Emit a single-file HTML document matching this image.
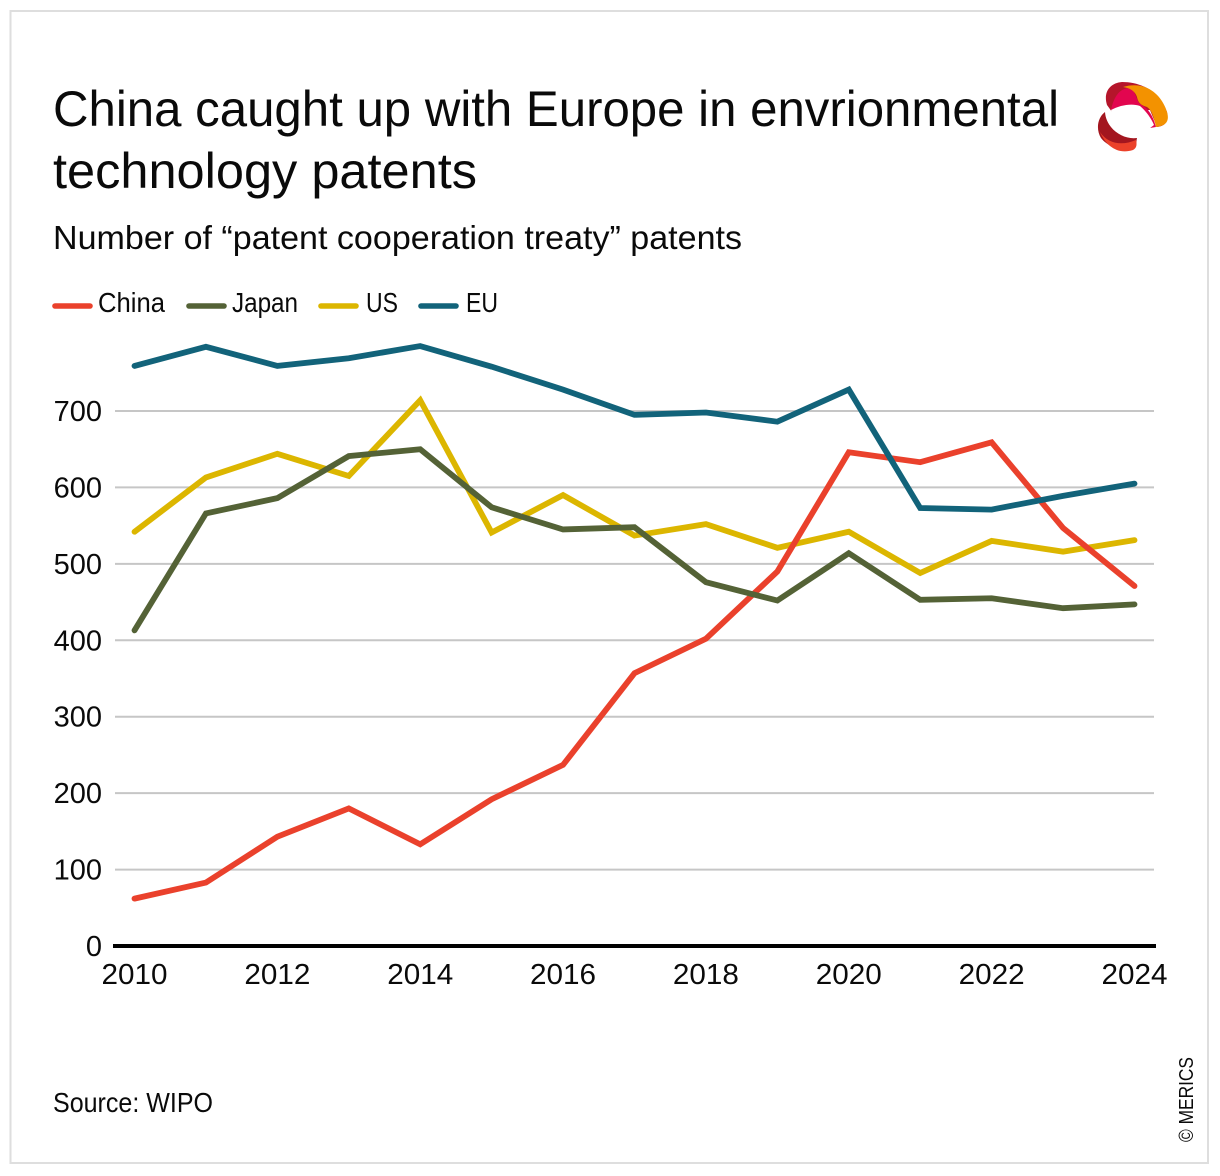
<!DOCTYPE html>
<html lang="en">
<head>
<meta charset="utf-8">
<title>China caught up with Europe in envrionmental technology patents</title>
<style>
html,body{margin:0;padding:0;background:#fff;}
svg{display:block;}
text{font-family:"Liberation Sans",sans-serif;fill:#0a0a0a;}
</style>
</head>
<body>
<svg id="chart" xmlns="http://www.w3.org/2000/svg" width="1220" height="1176" viewBox="0 0 1220 1176">
  <rect x="10.5" y="11" width="1197.5" height="1152" fill="#fff" stroke="#dedede" stroke-width="2"/>
  <text x="53" y="126" font-size="50" textLength="1006" lengthAdjust="spacingAndGlyphs">China caught up with Europe in envrionmental</text>
  <text x="53" y="188" font-size="50" textLength="424" lengthAdjust="spacingAndGlyphs">technology patents</text>
  <text x="53" y="249" font-size="33" textLength="689" lengthAdjust="spacingAndGlyphs">Number of “patent cooperation treaty” patents</text>

  <g>
    <path d="M1107 105C1103 92 1110 83 1122 82C1142 82 1160 92 1167 112C1169 122 1165 126 1157 127L1150 110L1112 112Z" fill="#b5152b"/>
    <path d="M1111 110C1114 96 1120 88 1130 88C1136 91 1136 100 1140 104C1146 107 1152 112 1156 127L1150 128L1140 108Z" fill="#e2064f"/>
    <path d="M1123 87C1146 80 1162 95 1167 112C1170 122 1165 126 1156 127C1154 118 1152 110 1147 107C1140 105 1138 102 1137 97C1135 91 1130 88 1123 87Z" fill="#f39200"/>
    <path d="M1105 112C1097 118 1096 130 1101 138C1108 147 1122 152 1134 148C1137 146 1136 142 1137 138C1122 140 1106 128 1105 112Z" fill="#a3161f"/>
    <path d="M1100 132C1108 144 1122 146 1136 140C1137 144 1137 148 1133 150C1118 155 1106 146 1100 132Z" fill="#eb412a"/>
    <path d="M1111 110C1120 105 1132 103 1140 106C1147 112 1152 120 1154 125C1148 130 1142 133 1137 137C1125 135 1115 125 1111 110Z" fill="#fff"/>
  </g>

  <g>
    <g>
      <line x1="55" y1="306" x2="90" y2="306" stroke="#ea412c" stroke-width="5.6" stroke-linecap="round"/>
      <text x="98" y="312" font-size="28" textLength="67" lengthAdjust="spacingAndGlyphs">China</text>
    </g>
    <g>
      <line x1="189" y1="306" x2="224" y2="306" stroke="#546236" stroke-width="5.6" stroke-linecap="round"/>
      <text x="232" y="312" font-size="28" textLength="66" lengthAdjust="spacingAndGlyphs">Japan</text>
    </g>
    <g>
      <line x1="321" y1="306" x2="356" y2="306" stroke="#dcb600" stroke-width="5.6" stroke-linecap="round"/>
      <text x="366" y="312" font-size="28" textLength="32" lengthAdjust="spacingAndGlyphs">US</text>
    </g>
    <g>
      <line x1="421" y1="306" x2="456" y2="306" stroke="#12637a" stroke-width="5.6" stroke-linecap="round"/>
      <text x="466" y="312" font-size="28" textLength="32" lengthAdjust="spacingAndGlyphs">EU</text>
    </g>
  </g>

  <g id="grid"></g>
  <g id="yticks"></g>
  <g id="xticks"></g>
  <g id="series"></g>
  <line x1="113" y1="946" x2="1156" y2="946" stroke="#000" stroke-width="4"/>

  <text x="53" y="1112" font-size="28" textLength="160" lengthAdjust="spacingAndGlyphs">Source: WIPO</text>
  <text transform="translate(1193 1142) rotate(-90)" font-size="20" textLength="85" lengthAdjust="spacingAndGlyphs">© MERICS</text>
</svg>
<script>
const years = [2010,2011,2012,2013,2014,2015,2016,2017,2018,2019,2020,2021,2022,2023,2024];
const xTickLabels = [2010,2012,2014,2016,2018,2020,2022,2024];
const yTickLabels = [0,100,200,300,400,500,600,700];
const usValues = [542,613,644,615,714,541,590,537,552,521,542,488,530,516,531];
const chinaValues = [62,83,143,180,133,192,237,357,402,490,646,633,659,547,471];
const japanValues = [413,566,586,641,650,574,545,548,476,452,514,453,455,442,447];
const euValues = [759,784,759,769,785,758,728,695,698,686,728,573,571,589,605];

const svgNS = 'http://www.w3.org/2000/svg';
function xScale(year){ return 134.5 + (year - 2010) * (1000 / 14); }
function yScale(value){ return 946 - value * (535 / 700); }

const gridGroup = document.getElementById('grid');
const yTickGroup = document.getElementById('yticks');
const xTickGroup = document.getElementById('xticks');
const seriesGroup = document.getElementById('series');

yTickLabels.forEach(function(tick){
  if (tick > 0) {
    const gridLine = document.createElementNS(svgNS, 'line');
    
    
    gridLine.setAttribute('x1', 115);
    gridLine.setAttribute('x2', 1154);
    gridLine.setAttribute('y1', yScale(tick));
    gridLine.setAttribute('y2', yScale(tick));
    gridLine.setAttribute('stroke', '#c6c6c6');
    gridLine.setAttribute('stroke-width', 2);
    gridGroup.appendChild(gridLine);
  }
  const yLabel = document.createElementNS(svgNS, 'text');
  
  
  yLabel.setAttribute('x', 102);
  yLabel.setAttribute('y', yScale(tick) + 10);
  yLabel.setAttribute('text-anchor', 'end');
  yLabel.setAttribute('font-size', 29);
  yLabel.textContent = String(tick);
  yTickGroup.appendChild(yLabel);
});

xTickLabels.forEach(function(tick){
  const xLabel = document.createElementNS(svgNS, 'text');
  
  
  xLabel.setAttribute('x', xScale(tick));
  xLabel.setAttribute('y', 984);
  xLabel.setAttribute('text-anchor', 'middle');
  xLabel.setAttribute('font-size', 29);
  xLabel.setAttribute('textLength', 66);
  xLabel.setAttribute('lengthAdjust', 'spacingAndGlyphs');
  xLabel.textContent = String(tick);
  xTickGroup.appendChild(xLabel);
});

function drawSeries(values, color, name){
  const points = values.map(function(value, i){
    return xScale(years[i]).toFixed(2) + ',' + yScale(value).toFixed(2);
  }).join(' ');
  const line = document.createElementNS(svgNS, 'polyline');
  
  
  line.setAttribute('points', points);
  line.setAttribute('fill', 'none');
  line.setAttribute('stroke', color);
  line.setAttribute('stroke-width', 5.8);
  line.setAttribute('stroke-linecap', 'round');
  line.setAttribute('stroke-linejoin', 'miter');
  seriesGroup.appendChild(line);
}
drawSeries(usValues, '#dcb600', 'series-us');
drawSeries(chinaValues, '#ea412c', 'series-china');
drawSeries(japanValues, '#546236', 'series-japan');
drawSeries(euValues, '#12637a', 'series-eu');
</script>
</body>
</html>
